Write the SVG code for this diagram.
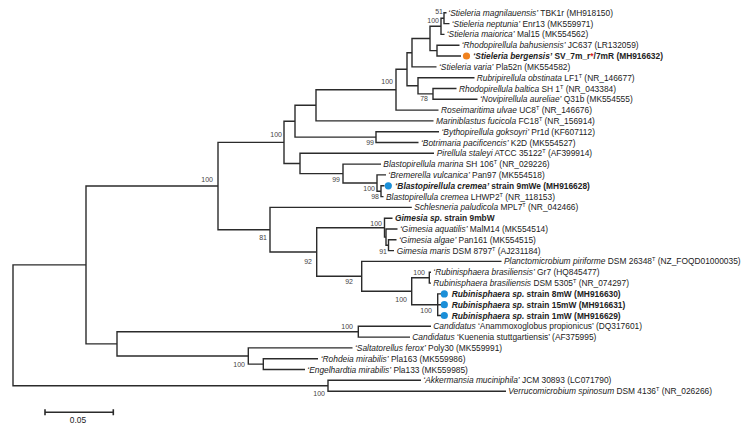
<svg xmlns="http://www.w3.org/2000/svg" width="749" height="426" viewBox="0 0 749 426">
<style>
text{font-family:"Liberation Sans",Arial,sans-serif;font-size:8.4px;fill:#222}
.i{font-style:italic}
.b{font-weight:bold}
.bs{font-size:7px;fill:#444;text-anchor:end}
.sup{font-size:5.5px}
.tree path{fill:none;stroke:#2b2b2b;stroke-width:1.4}
.blue{fill:#1b8fd8}
.orange{fill:#f0821e}
.red{fill:#e02020}
</style>
<rect width="749" height="426" fill="#fff"/>
<g id="connectors" class="tree">
<path d="M446.5 12.8 H444 V23.6 H449.5"/>
<path d="M444 18.2 H441 V34.4 H444.5"/>
<path d="M459.5 45.2 H437 V56.0 H461"/>
<path d="M441 26.3 H430 V50.6 H437"/>
<path d="M430 38.5 H412 V66.9 H436.5"/>
<path d="M456.5 88.5 H433 V99.3 H477.5"/>
<path d="M474.5 77.7 H418 V93.9 H433"/>
<path d="M412 52.7 H407 V85.8 H418"/>
<path d="M407 69.2 H396 V110.1 H438.5"/>
<path d="M396 89.7 H316 V120.9 H433.5"/>
<path d="M439 131.7 H376 V142.5 H418.5"/>
<path d="M316 105.3 H295 V137.1 H376"/>
<path d="M384.5 185.8 H381 V196.6 H383.5"/>
<path d="M386 174.9 H377 V191.2 H381"/>
<path d="M381 164.1 H343 V183 H377"/>
<path d="M434 153.3 H300 V173.6 H343"/>
<path d="M295 121.2 H284 V163.5 H300"/>
<path d="M396.5 239.8 H388.5 V250.6 H394"/>
<path d="M397.5 229.0 H386 V245.2 H388.5"/>
<path d="M392.5 218.2 H384.5 V237.1 H386"/>
<path d="M431 272.2 H429.3 V283.1 H431"/>
<path d="M441 293.9 H437.7 V315.5 H441 M437.7 304.7 H441"/>
<path d="M429.3 277.7 H411.7 V304.7 H437.7"/>
<path d="M501.5 261.4 H361.7 V291.2 H411.7"/>
<path d="M384.5 227.7 H316.7 V276.3 H361.7"/>
<path d="M411.8 207.4 H270 V252 H316.7"/>
<path d="M284 142.4 H218 V229.7 H270"/>
<path d="M431 326.3 H358.3 V337.1 H410"/>
<path d="M318 358.7 H263.3 V369.5 H305"/>
<path d="M352.5 347.9 H248.3 V364.1 H263.3"/>
<path d="M358.3 331.7 H117 V356 H248.3"/>
<path d="M218 186 H86 V343.9 H117"/>
<path d="M421 380.3 H328 V391.2 H506"/>
<path d="M86 264.9 H13 V385.75 H328"/>
</g>
<g id="bootstrap">
<text class="bs" x="443" y="13.5">51</text>
<text class="bs" x="439" y="23">100</text>
<text class="bs" x="393" y="83.5">100</text>
<text class="bs" x="428" y="100.5">78</text>
<text class="bs" x="282" y="136.5">100</text>
<text class="bs" x="374" y="144.5">99</text>
<text class="bs" x="213" y="181.5">100</text>
<text class="bs" x="340" y="181.5">99</text>
<text class="bs" x="375" y="190.5">100</text>
<text class="bs" x="379" y="198.5">98</text>
<text class="bs" x="382" y="226">100</text>
<text class="bs" x="267" y="240">81</text>
<text class="bs" x="387" y="253.5">91</text>
<text class="bs" x="312" y="263.5">92</text>
<text class="bs" x="353" y="283.5">92</text>
<text class="bs" x="425" y="274.8">100</text>
<text class="bs" x="407" y="301.5">100</text>
<text class="bs" x="432" y="313">100</text>
<text class="bs" x="353" y="328.5">100</text>
<text class="bs" x="245" y="366.5">100</text>
<text class="bs" x="325" y="396">100</text>
</g>
<g id="n0"><text x="448.3" y="15.8"><tspan class="i">‘Stieleria magnilauensis’</tspan> TBK1r (MH918150)</text></g>
<g id="n1"><text x="451.7" y="26.6"><tspan class="i">‘Stieleria neptunia’</tspan> Enr13 (MK559971)</text></g>
<g id="n2"><text x="446.7" y="37.4"><tspan class="i">‘Stieleria maiorica’</tspan> Mal15 (MK554562)</text></g>
<g id="n3"><text x="461.7" y="48.2"><tspan class="i">‘Rhodopirellula bahusiensis’</tspan> JC637 (LR132059)</text></g>
<g id="n4"><circle class="orange" cx="466.5" cy="56" r="3.6"/><text class="b" x="473" y="59"><tspan class="i">‘Stieleria bergensis’</tspan> SV_7m_r<tspan class="red">*</tspan>/7mR (MH916632)</text></g>
<g id="n5"><text x="439" y="69.9"><tspan class="i">‘Stieleria varia’</tspan> Pla52n (MK554582)</text></g>
<g id="n6"><text x="476.7" y="80.7"><tspan class="i">Rubripirellula obstinata</tspan> LF1<tspan class="sup" dy="-3">T</tspan><tspan dy="3"> (NR_146677)</tspan></text></g>
<g id="n7"><text x="459" y="91.5"><tspan class="i">Rhodopirellula baltica</tspan> SH 1<tspan class="sup" dy="-3">T</tspan><tspan dy="3"> (NR_043384)</tspan></text></g>
<g id="n8"><text x="480" y="102.3"><tspan class="i">‘Novipirellula aureliae’</tspan> Q31b (MK554555)</text></g>
<g id="n9"><text x="441" y="113.1"><tspan class="i">Roseimaritima ulvae</tspan> UC8<tspan class="sup" dy="-3">T</tspan><tspan dy="3"> (NR_146676)</tspan></text></g>
<g id="n10"><text x="436" y="123.9"><tspan class="i">Mariniblastus fucicola</tspan> FC18<tspan class="sup" dy="-3">T</tspan><tspan dy="3"> (NR_156914)</tspan></text></g>
<g id="n11"><text x="441.5" y="134.7"><tspan class="i">‘Bythopirellula goksoyri’</tspan> Pr1d (KF607112)</text></g>
<g id="n12"><text x="421" y="145.5"><tspan class="i">‘Botrimaria pacificencis’</tspan> K2D (MK554527)</text></g>
<g id="n13"><text x="436.7" y="156.3"><tspan class="i">Pirellula staleyi</tspan> ATCC 35122<tspan class="sup" dy="-3">T</tspan><tspan dy="3"> (AF399914)</tspan></text></g>
<g id="n14"><text x="383.3" y="167.1"><tspan class="i">Blastopirellula marina</tspan> SH 106<tspan class="sup" dy="-3">T</tspan><tspan dy="3"> (NR_029226)</tspan></text></g>
<g id="n15"><text x="388.3" y="177.9"><tspan class="i">‘Bremerella vulcanica’</tspan> Pan97 (MK554518)</text></g>
<g id="n16"><circle class="blue" cx="388.3" cy="185.8" r="3.6"/><text class="b" x="395" y="188.8"><tspan class="i">‘Blastopirellula cremea’</tspan> strain 9mWe (MH916628)</text></g>
<g id="n17"><text x="386" y="199.6"><tspan class="i">Blastopirellula cremea</tspan> LHWP2<tspan class="sup" dy="-3">T</tspan><tspan dy="3"> (NR_118153)</tspan></text></g>
<g id="n18"><text x="414.3" y="210.4"><tspan class="i">Schlesneria paludicola</tspan> MPL7<tspan class="sup" dy="-3">T</tspan><tspan dy="3"> (NR_042466)</tspan></text></g>
<g id="n19"><text class="b" x="395" y="221.2"><tspan class="i">Gimesia sp.</tspan> strain 9mbW</text></g>
<g id="n20"><text x="400" y="232"><tspan class="i">‘Gimesia aquatilis’</tspan> MalM14 (MK554514)</text></g>
<g id="n21"><text x="399" y="242.8"><tspan class="i">‘Gimesia algae’</tspan> Pan161 (MK554515)</text></g>
<g id="n22"><text x="396.7" y="253.6"><tspan class="i">Gimesia maris</tspan> DSM 8797<tspan class="sup" dy="-3">T</tspan><tspan dy="3"> (AJ231184)</tspan></text></g>
<g id="n23"><text x="504" y="264.4"><tspan class="i">Planctomicrobium piriforme</tspan> DSM 26348<tspan class="sup" dy="-3">T</tspan><tspan dy="3"> (NZ_FOQD01000035)</tspan></text></g>
<g id="n24"><text x="433.3" y="275.2"><tspan class="i">‘Rubinisphaera brasiliensis’</tspan> Gr7 (HQ845477)</text></g>
<g id="n25"><text x="433.3" y="286.1"><tspan class="i">Rubinisphaera brasiliensis</tspan> DSM 5305<tspan class="sup" dy="-3">T</tspan><tspan dy="3"> (NR_074297)</tspan></text></g>
<g id="n26"><circle class="blue" cx="444.3" cy="293.9" r="3.6"/><text class="b" x="451.7" y="296.9"><tspan class="i">Rubinisphaera sp.</tspan> strain 8mW (MH916630)</text></g>
<g id="n27"><circle class="blue" cx="444.3" cy="304.7" r="3.6"/><text class="b" x="451.7" y="307.7"><tspan class="i">Rubinisphaera sp.</tspan> strain 15mW (MH916631)</text></g>
<g id="n28"><circle class="blue" cx="444.3" cy="315.5" r="3.6"/><text class="b" x="451.7" y="318.5"><tspan class="i">Rubinisphaera sp.</tspan> strain 1mW (MH916629)</text></g>
<g id="n29"><text x="433.3" y="329.3"><tspan class="i">Candidatus</tspan> ‘Anammoxoglobus propionicus’ (DQ317601)</text></g>
<g id="n30"><text x="412.3" y="340.1"><tspan class="i">Candidatus</tspan> ‘Kuenenia stuttgartiensis’ (AF375995)</text></g>
<g id="n31"><text x="355" y="350.9"><tspan class="i">‘Saltatorellus ferox’</tspan> Poly30 (MK559991)</text></g>
<g id="n32"><text x="320.7" y="361.7"><tspan class="i">‘Rohdeia mirabilis’</tspan> Pla163 (MK559986)</text></g>
<g id="n33"><text x="307.3" y="372.5"><tspan class="i">‘Engelhardtia mirabilis’</tspan> Pla133 (MK559985)</text></g>
<g id="n34"><text x="423.3" y="383.3"><tspan class="i">‘Akkermansia muciniphila’</tspan> JCM 30893 (LC071790)</text></g>
<g id="n35"><text x="508.3" y="394.2"><tspan class="i">Verrucomicrobium spinosum</tspan> DSM 4136<tspan class="sup" dy="-3">T</tspan><tspan dy="3"> (NR_026266)</tspan></text></g>
<g id="scalebar">
<path d="M45 412.3 H113.3 M45 409.3 V415.3 M113.3 409.3 V415.3" fill="none" stroke="#2b2b2b" stroke-width="1.6"/>
<text x="78" y="423" text-anchor="middle">0.05</text>
</g>
</svg>
